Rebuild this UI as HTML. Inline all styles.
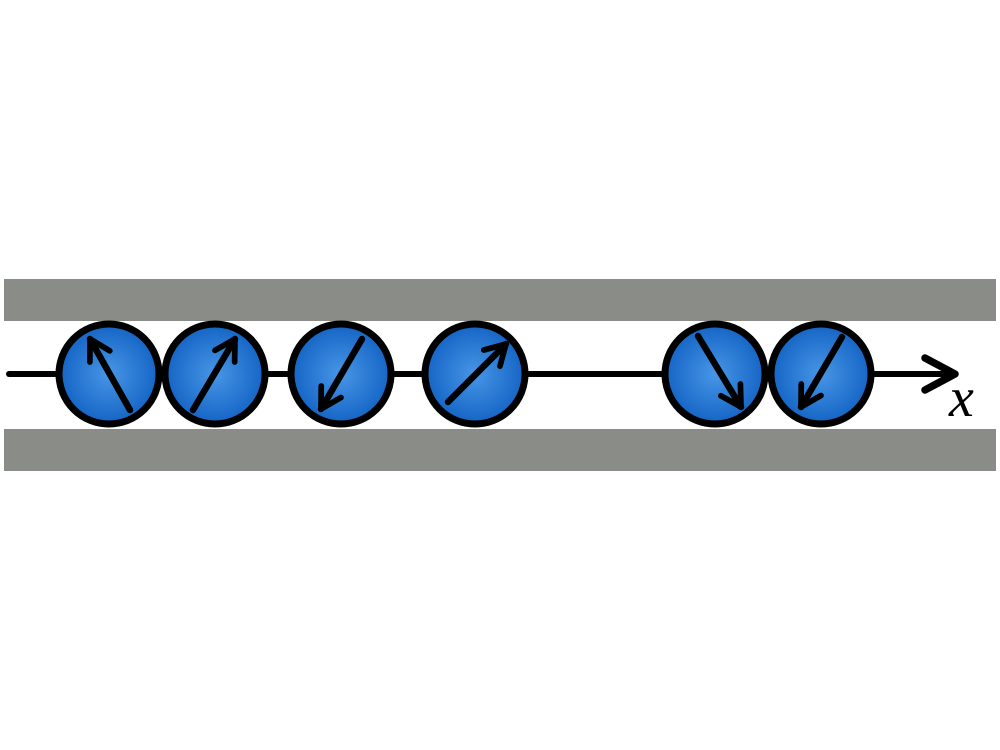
<!DOCTYPE html>
<html><head><meta charset="utf-8"><style>html,body{margin:0;padding:0;background:#fff}svg{display:block}</style></head>
<body>
<svg width="1000" height="750" viewBox="0 0 1000 750" xmlns="http://www.w3.org/2000/svg">
<defs>
<radialGradient id="g" cx="50%" cy="50%" r="55%">
<stop offset="0" stop-color="#4796e6"/>
<stop offset="1" stop-color="#0f5fc2"/>
</radialGradient>
<marker id="ah" viewBox="0 0 10 10" refX="8" refY="5" markerWidth="4.4" markerHeight="4.4" orient="auto" markerUnits="strokeWidth">
<path d="M1,1 L8,5 L1,9" fill="none" stroke="#000" stroke-width="2" stroke-linecap="round" stroke-linejoin="round"/>
</marker>
</defs>
<rect x="4" y="279" width="992" height="42" fill="#8a8d87"/>
<rect x="4" y="429" width="992" height="42" fill="#8a8d87"/>
<line x1="9" y1="374" x2="950" y2="374" stroke="#000" stroke-width="6" stroke-linecap="round"/>
<path d="M925,358 L955,374 L925,390" fill="none" stroke="#000" stroke-width="7.5" stroke-linecap="round" stroke-linejoin="round"/>
<g fill="url(#g)" stroke="#000" stroke-width="7">
<circle cx="109" cy="374" r="50"/>
<circle cx="215" cy="374" r="50"/>
<circle cx="341" cy="374" r="50"/>
<circle cx="475" cy="374" r="50"/>
<circle cx="715" cy="374" r="50"/>
<circle cx="821" cy="374" r="50"/>
</g>
<g stroke="#000" stroke-width="6.5" stroke-linecap="round" marker-end="url(#ah)">
<line x1="130" y1="410" x2="90" y2="339"/>
<line x1="193" y1="410" x2="235" y2="339"/>
<line x1="362" y1="339" x2="321" y2="409"/>
<line x1="448" y1="402" x2="506" y2="344"/>
<line x1="698" y1="336" x2="741" y2="407"/>
<line x1="842" y1="337" x2="801" y2="407"/>
</g>
<text x="949" y="416" font-family="Liberation Serif, serif" font-style="italic" font-size="56" fill="#000">x</text>
</svg>
</body></html>
